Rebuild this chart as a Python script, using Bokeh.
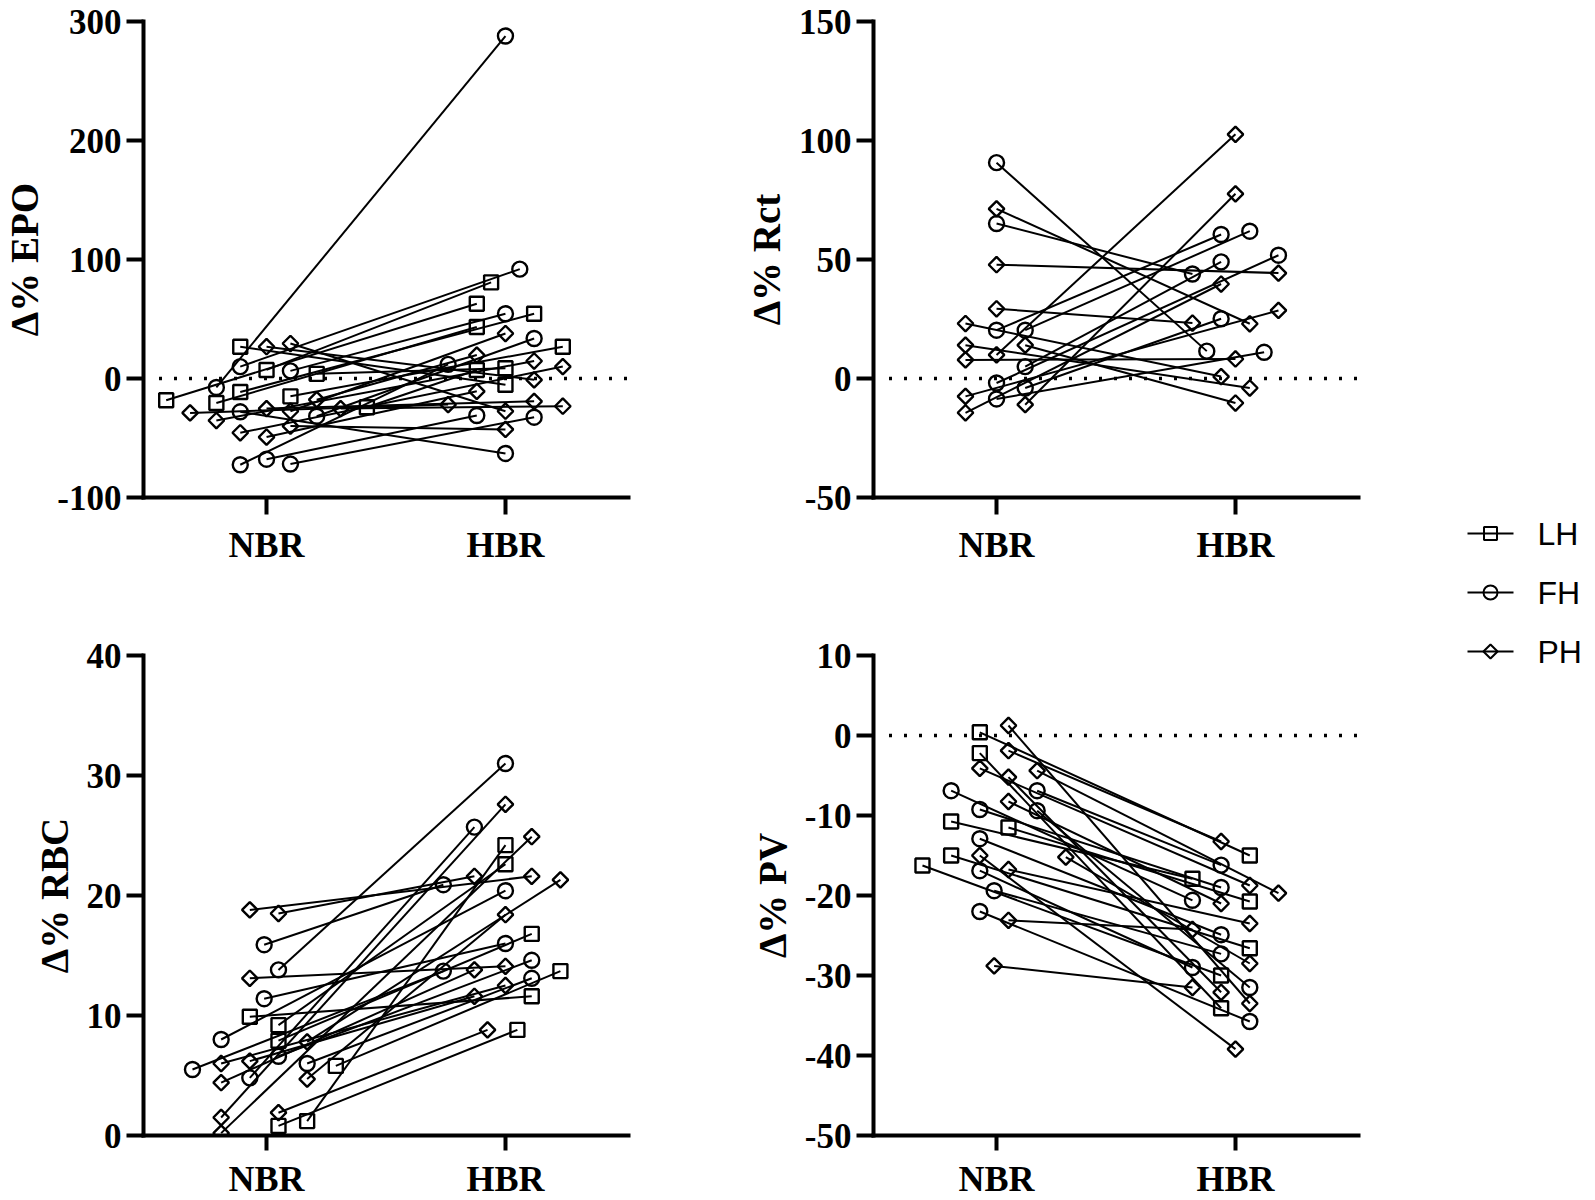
import math
from bokeh.plotting import figure
from bokeh.models import Range1d, FixedTicker, GridBox
from bokeh.core.properties import value
from bokeh.embed import file_html
from bokeh.resources import INLINE

SERIF = "Liberation Serif"
SANS = "Liberation Sans"

CATEGORIES = ["NBR", "HBR"]
GROUPS = ["LH", "FH", "PH"]

# ---------------- values (Δ %) ----------------
# EPO
EPO_LH_NBR = [-18.3, -20.6, 26.7, -11.4, 7.2, -15.0, 3.9, -24.2]
EPO_LH_HBR = [62.8, 43.3, -5.3, 54.4, 80.8, 26.7, 8.6, 7.2]
EPO_FH_NBR = [-7.5, 10.0, 6.4, -28.0, -31.7, -72.5, -67.8, -71.9]
EPO_FH_HBR = [287.8, 91.9, 54.4, -63.0, 33.6, 11.9, -31.1, -32.5]
EPO_PH_NBR = [26.7, 29.4, -28.9, -35.3, -25.3, -27.5, -17.8, -25.3, -45.6, -49.2, -40.0]
EPO_PH_HBR = [-1.1, -27.5, -21.9, 14.7, -19.2, 37.8, 19.7, -23.3, 10.0, -10.8, -42.8]

# Rct
RCT_LH_NBR = []
RCT_LH_HBR = []
RCT_FH_NBR = [90.7, 65.1, 20.3, 20.3, 5.0, -1.9, -4.0, -8.6]
RCT_FH_HBR = [11.5, 43.9, 60.5, 61.9, 49.0, 51.8, 25.1, 11.0]
RCT_PH_NBR = [71.3, 47.8, 29.3, 23.1, 14.0, 14.0, 7.8, 9.9, -7.5, -14.4, -11.0]
RCT_PH_HBR = [23.0, 44.3, 23.3, 0.8, -4.0, -10.3, 8.2, 102.6, 28.6, 39.7, 77.6]

# RBC
RBC_LH_NBR = [9.9, 9.2, 7.9, 5.8, 0.8, 1.2]
RBC_LH_HBR = [11.6, 22.6, 16.8, 13.7, 8.8, 24.2]
RBC_FH_NBR = [5.5, 13.8, 15.9, 11.4, 8.0, 4.8, 6.6, 6.0]
RBC_FH_HBR = [13.7, 31.0, 20.9, 16.0, 20.4, 25.7, 14.6, 13.1]
RBC_PH_NBR = [18.8, 18.5, 13.1, 6.0, 6.2, 4.4, 4.7, 1.9, 1.5, 0.2, 7.8]
RBC_PH_HBR = [21.6, 21.6, 14.1, 12.5, 11.6, 13.8, 18.4, 8.8, 27.6, 24.9, 21.3]

# PV
PV_LH_NBR = [0.4, -2.2, -10.75, -11.5, -15.0, -16.25]
PV_LH_HBR = [-15.0, -34.1, -17.9, -20.75, -26.6, -30.0]
PV_FH_NBR = [-6.9, -6.9, -9.25, -9.4, -12.9, -16.9, -19.4, -22.0]
PV_FH_HBR = [-20.6, -16.2, -19.0, -31.5, -24.9, -29.0, -27.3, -35.75]
PV_PH_NBR = [1.25, -1.9, -4.1, -5.2, -4.4, -8.25, -15.2, -15.0, -16.75, -23.1, -28.8]
PV_PH_HBR = [-33.5, -13.25, -18.75, -32.1, -19.7, -21.0, -28.5, -39.2, -23.5, -24.25, -31.5]

# ---------------- horizontal scatter offsets (layout, category units) ----------------
EPO_LH_NBR_DX = [-0.42, -0.21, -0.11, -0.11, 0.0, 0.10, 0.21, 0.42]
EPO_LH_HBR_DX = [-0.12, -0.12, 0.0, 0.12, -0.06, 0.24, 0.0, -0.12]
EPO_FH_NBR_DX = [-0.21, -0.11, 0.10, -0.11, 0.21, -0.11, 0.0, 0.10]
EPO_FH_HBR_DX = [0.0, 0.06, 0.0, 0.0, 0.12, -0.24, -0.12, 0.12]
EPO_PH_NBR_DX = [0.0, 0.10, -0.32, -0.21, 0.0, 0.10, 0.21, 0.31, -0.11, 0.0, 0.10]
EPO_PH_HBR_DX = [0.12, 0.0, -0.24, 0.12, 0.12, 0.0, -0.12, 0.24, 0.24, -0.12, 0.0]

RCT_LH_NBR_DX = []
RCT_LH_HBR_DX = []
RCT_FH_NBR_DX = [0.0, 0.0, 0.0, 0.12, 0.12, 0.0, 0.12, 0.0]
RCT_FH_HBR_DX = [-0.12, -0.18, -0.06, 0.06, -0.06, 0.18, -0.06, 0.12]
RCT_PH_NBR_DX = [0.0, 0.0, 0.0, -0.13, -0.13, 0.12, -0.13, 0.0, -0.13, -0.13, 0.12]
RCT_PH_HBR_DX = [0.06, 0.18, -0.18, -0.06, 0.06, 0.0, 0.0, 0.0, 0.18, -0.06, 0.0]

RBC_LH_NBR_DX = [-0.07, 0.05, 0.05, 0.29, 0.05, 0.17]
RBC_LH_HBR_DX = [0.11, 0.0, 0.11, 0.23, 0.05, 0.0]
RBC_FH_NBR_DX = [-0.31, 0.05, -0.01, -0.01, -0.19, -0.07, 0.05, 0.17]
RBC_FH_HBR_DX = [-0.26, 0.0, -0.26, 0.0, 0.0, -0.13, 0.11, 0.11]
RBC_PH_NBR_DX = [-0.07, 0.05, -0.07, -0.19, -0.07, -0.19, 0.17, 0.05, -0.19, -0.19, 0.17]
RBC_PH_HBR_DX = [0.11, -0.13, 0.0, 0.0, -0.13, -0.13, 0.0, -0.075, 0.0, 0.11, 0.23]

PV_LH_NBR_DX = [-0.07, -0.07, -0.19, 0.05, -0.19, -0.31]
PV_LH_HBR_DX = [0.06, -0.06, -0.18, 0.06, 0.06, -0.06]
PV_FH_NBR_DX = [-0.19, 0.17, -0.07, 0.17, -0.07, -0.07, -0.01, -0.07]
PV_FH_HBR_DX = [-0.18, -0.06, -0.06, 0.06, -0.06, -0.18, -0.06, 0.06]
PV_PH_NBR_DX = [0.05, 0.05, -0.07, 0.05, 0.17, 0.05, 0.29, -0.07, 0.05, 0.05, -0.01]
PV_PH_HBR_DX = [0.06, -0.06, 0.06, -0.06, 0.18, -0.06, 0.06, 0.0, 0.06, -0.18, -0.18]

CAT_X = {c: i for i, c in enumerate(CATEGORIES)}

MARKERS = {
    "LH": dict(marker="square", size=14, angle=0.0),
    "FH": dict(marker="circle", size=15, angle=0.0),
    "PH": dict(marker="square", size=11, angle=math.pi / 4),
}
MARK_LW = 2.4
LINE_LW = 2.0
FRAME_W = 485


def make_panel(ylabel, yrange, yticks, series, zero_line, left, right, top, frame_h, bottom,
               x_standoff, x_tick_out):
    p = figure(frame_width=FRAME_W, frame_height=frame_h,
               x_range=Range1d(-0.515, 1.515), y_range=Range1d(*yrange),
               min_border_left=left, min_border_right=right,
               min_border_top=top, min_border_bottom=bottom,
               output_backend="svg", toolbar_location=None)
    p.outline_line_color = None
    p.xgrid.visible = False
    p.ygrid.visible = False

    if zero_line:
        p.line(x=[-0.45, 1.515], y=[0, 0], line_color="black",
               line_width=3.5, line_dash="3 12")

    pts = {}
    for grp in GROUPS:
        nbr, hbr, dxn, dxh = series[grp]
        if not nbr:
            continue
        x0 = [CAT_X["NBR"] + d for d in dxn]
        x1 = [CAT_X["HBR"] + d for d in dxh]
        p.segment(x0=x0, y0=nbr, x1=x1, y1=hbr, line_color="black", line_width=LINE_LW)
        pts[grp] = (x0 + x1, list(nbr) + list(hbr))
    for grp, (xs, ys) in pts.items():
        m = MARKERS[grp]
        p.scatter(x=xs, y=ys, marker=m["marker"], size=m["size"], angle=m["angle"],
                  fill_color=None, line_color="black", line_width=MARK_LW)

    xa = p.xaxis[0]
    xa.ticker = FixedTicker(ticks=[CAT_X[c] for c in CATEGORIES])
    xa.major_label_overrides = {CAT_X[c]: c for c in CATEGORIES}
    xa.axis_line_width = 4
    xa.axis_line_cap = "square"
    xa.major_tick_line_width = 4
    xa.major_tick_out = x_tick_out
    xa.major_tick_in = 0
    xa.minor_tick_line_color = None
    xa.major_label_text_font = SERIF
    xa.major_label_text_font_style = "bold"
    xa.major_label_text_font_size = "36px"
    xa.major_label_text_color = "black"
    xa.major_label_standoff = x_standoff

    ya = p.yaxis[0]
    ya.ticker = FixedTicker(ticks=yticks)
    ya.major_label_overrides = {t: str(t) for t in yticks}
    ya.axis_line_width = 4
    ya.axis_line_cap = "square"
    ya.major_tick_line_width = 4
    ya.major_tick_out = 17
    ya.major_tick_in = 0
    ya.minor_tick_line_color = None
    ya.major_label_text_font = SERIF
    ya.major_label_text_font_style = "bold"
    ya.major_label_text_font_size = "35px"
    ya.major_label_text_color = "black"
    ya.major_label_standoff = 5
    ya.axis_label = ylabel
    ya.axis_label_text_font = SERIF
    ya.axis_label_text_font_style = "bold"
    ya.axis_label_text_font_size = "39px"
    ya.axis_label_text_color = "black"
    ya.axis_label_standoff = 8
    return p


# top row: frame 21..497 ; bottom row: frame 655..1135
p1 = make_panel("Δ% EPO", (-100, 300), [-100, 0, 100, 200, 300],
                {"LH": (EPO_LH_NBR, EPO_LH_HBR, EPO_LH_NBR_DX, EPO_LH_HBR_DX),
                 "FH": (EPO_FH_NBR, EPO_FH_HBR, EPO_FH_NBR_DX, EPO_FH_HBR_DX),
                 "PH": (EPO_PH_NBR, EPO_PH_HBR, EPO_PH_NBR_DX, EPO_PH_HBR_DX)},
                True, 139, 96, 21, 476, 120, 10, 17)
p2 = make_panel("Δ% Rct", (-50, 150), [-50, 0, 50, 100, 150],
                {"LH": (RCT_LH_NBR, RCT_LH_HBR, RCT_LH_NBR_DX, RCT_LH_HBR_DX),
                 "FH": (RCT_FH_NBR, RCT_FH_HBR, RCT_FH_NBR_DX, RCT_FH_HBR_DX),
                 "PH": (RCT_PH_NBR, RCT_PH_HBR, RCT_PH_NBR_DX, RCT_PH_HBR_DX)},
                True, 149, 86, 21, 476, 120, 10, 17)
p3 = make_panel("Δ% RBC", (0, 40), [0, 10, 20, 30, 40],
                {"LH": (RBC_LH_NBR, RBC_LH_HBR, RBC_LH_NBR_DX, RBC_LH_HBR_DX),
                 "FH": (RBC_FH_NBR, RBC_FH_HBR, RBC_FH_NBR_DX, RBC_FH_HBR_DX),
                 "PH": (RBC_PH_NBR, RBC_PH_HBR, RBC_PH_NBR_DX, RBC_PH_HBR_DX)},
                False, 139, 96, 38, 480, 64, 8, 15)
p4 = make_panel("Δ% PV", (-50, 10), [-50, -40, -30, -20, -10, 0, 10],
                {"LH": (PV_LH_NBR, PV_LH_HBR, PV_LH_NBR_DX, PV_LH_HBR_DX),
                 "FH": (PV_FH_NBR, PV_FH_HBR, PV_FH_NBR_DX, PV_FH_HBR_DX),
                 "PH": (PV_PH_NBR, PV_PH_HBR, PV_PH_NBR_DX, PV_PH_HBR_DX)},
                True, 149, 86, 38, 480, 64, 8, 15)

# ---------------- legend column (drawn in pixel-like coordinates) ----------------
LEG_W, LEG_H = 139, 900
leg = figure(frame_width=LEG_W, frame_height=LEG_H,
             x_range=Range1d(0, LEG_W), y_range=Range1d(LEG_H, 0),
             min_border=0, output_backend="svg", toolbar_location=None,
             x_axis_location=None, y_axis_location=None)
leg.outline_line_color = None
leg.xgrid.visible = False
leg.ygrid.visible = False

LEG_ROW_Y = [512, 571, 630]
LEG_LINE_X0, LEG_LINE_X1, LEG_TEXT_X = 23, 69, 93
for grp, yy in zip(GROUPS, LEG_ROW_Y):
    m = MARKERS[grp]
    leg.segment(x0=[LEG_LINE_X0], y0=[yy], x1=[LEG_LINE_X1], y1=[yy],
                line_color="black", line_width=LINE_LW)
    leg.scatter(x=[(LEG_LINE_X0 + LEG_LINE_X1) / 2], y=[yy], marker=m["marker"],
                size=m["size"] - 1, angle=m["angle"], fill_color=None,
                line_color="black", line_width=MARK_LW - 0.4)
    leg.text(x=[LEG_TEXT_X], y=[yy], text=[grp], text_font=value(SANS),
             text_font_size="32px", text_baseline="middle", text_align="left",
             text_color="black")

layout = GridBox(children=[(p1, 0, 0), (p2, 0, 1), (leg, 0, 2, 2, 1), (p3, 1, 0), (p4, 1, 1)],
                 spacing=0)

open("out.html", "w").write(file_html(layout, INLINE))
